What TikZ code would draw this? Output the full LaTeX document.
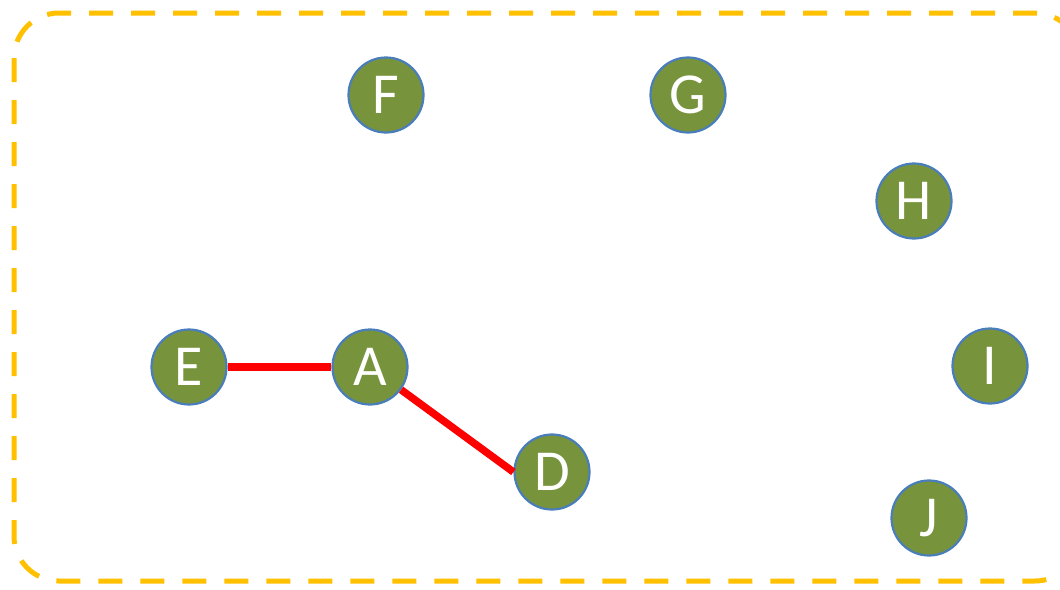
\documentclass[tikz,border=0pt]{standalone}
\usepackage{fontspec}
\setmainfont{Carlito}
\usetikzlibrary{backgrounds}
\definecolor{olive}{HTML}{77933C}
\definecolor{rimblue}{HTML}{4A7EBB}
\definecolor{frame}{HTML}{FFC000}
\begin{document}
\begin{tikzpicture}[x=1pt,y=-1pt,
  vert/.style={circle,fill=olive,draw=rimblue,line width=2.2pt,minimum size=75pt,inner sep=0pt,text=white,font=\fontsize{58}{58}\selectfont},
  edge/.style={red,line width=7.5pt}]
\useasboundingbox (0,0) rectangle (1060,589);
\clip (0,0) rectangle (1060,589);
\draw[frame,line width=5pt,dash pattern=on 24pt off 18pt,rounded corners=45pt] (14,13) rectangle (1080,581);
\node[vert] (F) at (386,95) {F};
\node[vert] (G) at (688,95) {G};
\node[vert] (H) at (914,201) {H};
\node[vert] (E) at (189,367) {E};
\node[vert] (A) at (370,367) {A};
\node[vert] (I) at (990,366) {I};
\node[vert] (D) at (552,472) {D};
\node[vert] (J) at (929,518) {J};
\draw[edge] (E) -- (A);
\draw[edge] (A) -- (D.west);
\end{tikzpicture}
\end{document}
